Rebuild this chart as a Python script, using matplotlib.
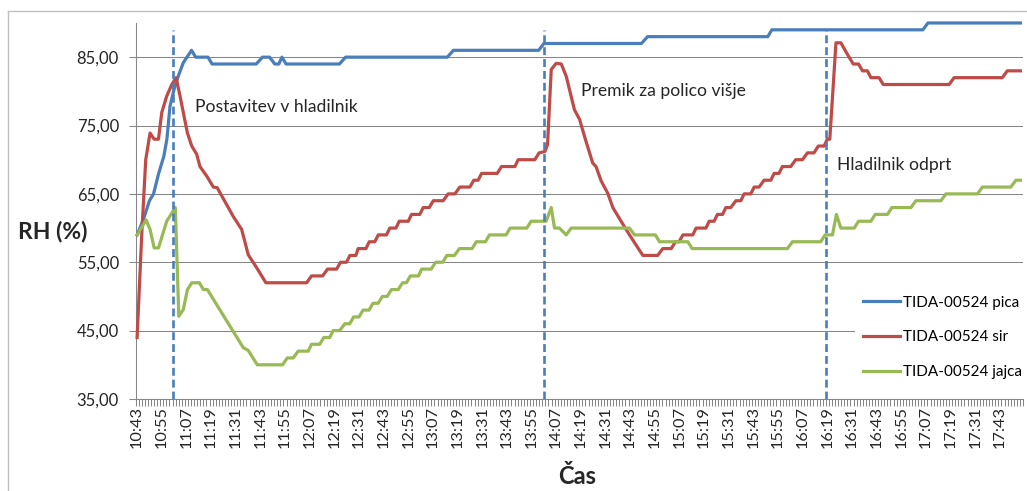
import numpy as np
import matplotlib.pyplot as plt
from matplotlib.lines import Line2D

plt.rcParams['font.family'] = ['Lato', 'DejaVu Sans']

# time in minutes after 10:43, relative humidity in %
pica_t = [0, 3, 6, 8, 10.5, 13, 14.5, 16, 18, 20, 22.5, 24.5, 26.5, 28.5, 34.5, 36.5,
          58, 61, 64.5, 67, 69, 70.5, 72.5, 98.5, 101.5, 151, 154, 195.5, 198,
          245.5, 248.5, 307, 309, 382.5, 385, 430]
pica_rh = [59, 61.2, 64, 65, 68, 70.5, 73, 77.8, 80.3, 82.2, 84.2, 85.1, 86, 85, 85, 84,
           84, 85, 85, 84, 84, 85, 84, 84, 85, 85, 86, 86, 87,
           87, 88, 88, 89, 89, 90, 90]

sir_t = [0, 2.3, 4.2, 6.3, 8.3, 10.4, 12, 14.4, 16.9, 19, 20.9, 24.5, 26.6, 29, 30.6,
         33.9, 37.1, 39, 46.8, 50.9, 54.1, 58.2, 62.7, 82.5, 84.9, 90.3, 92.7, 97.1,
         99, 101.9, 103.6, 106.5, 107.6, 111.4, 113, 115.7, 117.4, 121.4, 123, 126,
         127.6, 132, 133.6, 137.6, 139.3, 142.2, 144.2, 149, 151.4, 154.7, 157.1, 162,
         163.9, 166, 167.7, 175.3, 177.4, 183.9, 185.5, 193.6, 195.7, 198.5, 199.8,
         201.6, 204, 206.5, 208.9, 212.9, 215.4, 217.8, 221.8, 223.4, 225.9, 229.1,
         231.6, 235.6, 239.7, 246.2, 253.4, 255.9, 260, 262.1, 263.8, 265.7, 270.5,
         272.1, 276.9, 278.5, 280.9, 282.5, 285, 286.6, 289, 291.5, 293.9, 295.5,
         298.7, 300.4, 302.8, 305.2, 308.5, 310.1, 312.5, 314.1, 318.2, 320.6, 323.9,
         326.3, 329.5, 331.6, 334.4, 336, 337.2, 340.2, 342.6, 345.8, 348.6, 351.2,
         353.1, 355.5, 357.2, 361.2, 363.2, 395.3, 397.7, 421.2, 423.6, 430]
sir_rh = [44, 59.3, 70, 73.9, 73, 73, 76.9, 79.3, 81, 82, 79.3, 73.9, 72, 70.8, 69,
          67.6, 66, 65.9, 61.7, 59.8, 56.1, 54.2, 52, 52, 53, 53, 54, 54,
          55, 55, 56, 56, 57, 57, 58, 58, 59, 59, 60, 60,
          61, 61, 62, 62, 63, 63, 64, 64, 65, 65, 66, 66,
          67, 67, 68, 68, 69, 69, 70, 70, 71, 71.2, 72.2,
          83.2, 84.1, 84, 82.2, 77.3, 75.9, 73.4, 69.5, 69, 66.9, 65.1,
          63, 61, 59, 56, 56, 57, 57, 58, 58, 59, 59,
          60, 60, 61, 61, 62, 62, 63, 63, 64, 64, 65,
          65, 66, 66, 67, 67, 68, 68, 69, 69, 70, 70,
          71, 71, 72, 72, 73, 73, 87.1, 87.1, 85.4, 84, 84,
          83, 83, 82, 82, 81, 81, 82, 82, 83, 83]

jajca_t = [0, 4.4, 6.3, 8.3, 10.4, 14.4, 18.6, 20.3, 22.5, 24.5, 26.6, 30.3, 32.3, 34.2,
           51.7, 54.1, 58.5, 70.8, 73.1, 76, 78.4, 83.3, 84.9, 88.9, 90.9, 93.8, 95.4,
           98.6, 101.1, 103.5, 105.4, 108, 110, 112.9, 114.8, 117.3, 119.4, 121.7,
           123.8, 127.1, 129.2, 131.1, 133, 137, 138.5, 143.2, 145.3, 148.8, 150.8,
           154.5, 156.9, 163.1, 165.1, 169.6, 171.5, 179.6, 181.6, 189.7, 191.8, 199.1,
           201.6, 203.2, 205.6, 208.9, 211.3, 239.7, 242.1, 252.3, 254.3, 268.1, 270.2,
           316.6, 319, 332.8, 334.9, 338.5, 340.4, 342.6, 349.1, 351.2, 357.2, 359.3,
           365.3, 367.4, 376.7, 379.1, 391.3, 393.7, 409.1, 411.5, 425.3, 427.8, 430]
jajca_rh = [59, 61.2, 59.8, 57.1, 57.1, 61, 63, 47.1, 48.1, 51, 52, 52, 51, 51,
            42.5, 42.1, 40, 40, 41, 41, 42, 42, 43, 43, 44, 44, 45,
            45, 46, 46, 47, 47, 48, 48, 49, 49, 50, 50,
            51, 51, 52, 52, 53, 53, 54, 54, 55, 55, 56,
            56, 57, 57, 58, 58, 59, 59, 60, 60, 61, 61,
            63, 60, 60, 59, 60, 60, 59, 59, 58, 58, 57,
            57, 58, 58, 59, 59, 62, 60, 60, 61, 61, 62,
            62, 63, 63, 64, 64, 65, 65, 66, 66, 67, 67]

time_labels = ['10:43', '10:55', '11:07', '11:19', '11:31', '11:43', '11:55', '12:07',
               '12:19', '12:31', '12:43', '12:55', '13:07', '13:19', '13:31', '13:43',
               '13:55', '14:07', '14:19', '14:31', '14:43', '14:55', '15:07', '15:19',
               '15:31', '15:43', '15:55', '16:07', '16:19', '16:31', '16:43', '16:55',
               '17:07', '17:19', '17:31', '17:43']

event_t = [17.5, 198.3, 335.4]
event_text = ['Postavitev v hladilnik', 'Premik za polico višje', 'Hladilnik odprt']
event_text_pos = [(28.2, 77.7), (216.3, 80.05), (340.8, 69.2)]

names = ['TIDA-00524 pica', 'TIDA-00524 sir', 'TIDA-00524 jajca']
colors = ['#4A7EBB', '#BE4B48', '#98B954']
grey = '#868686'

fig = plt.figure(figsize=(10.27, 4.91), dpi=100)
ax = fig.add_axes([0.132, 0.1874, 0.8641, 0.7658])

for t, rh, c in zip([pica_t, sir_t, jajca_t], [pica_rh, sir_rh, jajca_rh], colors):
    ax.plot(t, rh, color=c, lw=2.3, solid_joinstyle='round', clip_on=False, zorder=3)

for x in event_t:
    ax.plot([x, x], [35, 89], color='#4A7EBB', lw=1.9, dashes=(3, 1.5), zorder=4)

for s, (x, y) in zip(event_text, event_text_pos):
    ax.text(x, y, s, fontsize=12.6, va='center', ha='left', color='#262626')

ax.set_xlim(-0.75, 431.25)
ax.set_ylim(35, 90)

ax.set_xticks(np.arange(0, 12 * len(time_labels), 12))
ax.set_xticklabels(time_labels, rotation=90, fontsize=11.8, color='#262626')
ax.set_xticks(np.arange(-0.75, 431.3, 1.5), minor=True)
ax.tick_params(axis='x', which='major', length=0, pad=5)
ax.tick_params(axis='x', which='minor', length=5, width=0.75, color=grey)

yt = np.arange(35, 86, 10)
ax.set_yticks(yt)
ax.set_yticklabels([f'{v:.2f}'.replace('.', ',') for v in yt], fontsize=12, color='#262626')
ax.tick_params(axis='y', length=5, width=0.75, color=grey, pad=7)
ax.yaxis.grid(True, color=grey, lw=0.75)
ax.set_axisbelow(True)

for side in ['top', 'right']:
    ax.spines[side].set_visible(False)
for side in ['left', 'bottom']:
    ax.spines[side].set_color(grey)
    ax.spines[side].set_linewidth(0.75)

handles = [Line2D([], [], color=c, lw=2.3) for c in colors]
leg = ax.legend(handles, names, loc='upper left', bbox_to_anchor=(0.811, 0.295),
                fontsize=11, frameon=True, fancybox=False, handlelength=2.4,
                handletextpad=0.2, labelspacing=1.35, borderpad=0.5, borderaxespad=0)
leg.get_frame().set_facecolor('white')
leg.get_frame().set_edgecolor('none')
leg.get_frame().set_alpha(1)
leg.set_zorder(5)

fig.text(53 / 1027, 1 - 232 / 491, 'RH (%)', fontsize=16.5, fontweight='bold',
         ha='center', va='center', color='#262626')
fig.text(577 / 1027, 1 - 477 / 491, 'Čas', fontsize=17, fontweight='bold',
         ha='center', va='center', color='#262626')

# outer chart frame
fig.add_artist(Line2D([8 / 1027, 8 / 1027], [0, 1 - 11 / 491], color='#c0c0c0', lw=1,
                      transform=fig.transFigure))
fig.add_artist(Line2D([8 / 1027, 1], [1 - 11 / 491, 1 - 11 / 491], color='#c0c0c0', lw=1,
                      transform=fig.transFigure))

fig.savefig('out.png', dpi=100)
